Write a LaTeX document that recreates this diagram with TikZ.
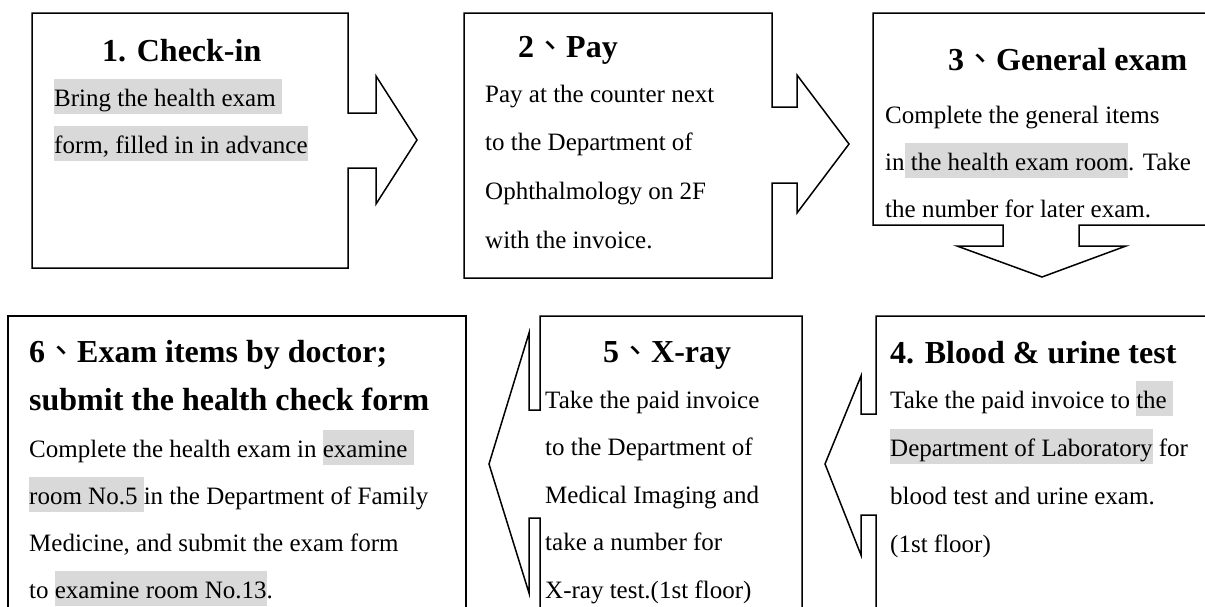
\documentclass[tikz,border=0pt]{standalone}
\usepackage{fontspec}
\setmainfont{Liberation Serif}
\newfontfamily\cjkfont{Noto Sans CJK TC}
\definecolor{hlgray}{HTML}{D9D9D9}
\newcommand\dun{{\cjkfont\mdseries 、}}
\newcommand\hlt[1]{{\setlength\fboxsep{0pt}\colorbox{hlgray}{\rule[-8pt]{0pt}{35pt}#1}}}
\newcommand\bodyfont{\fontsize{25}{47.5}\selectfont}
\newcommand\titlefont{\fontsize{32}{48}\selectfont\bfseries}
\begin{document}
\begin{tikzpicture}[x=1pt,y=-1pt,
  box/.style={draw=black,line width=1.5pt,line join=miter,fill=white},
  ttl/.style={anchor=base west,inner sep=0pt,font=\titlefont},
  body/.style={anchor=base west,inner sep=0pt,font=\bodyfont}]
\clip (0,0) rectangle (1205,606);
\fill[white] (0,0) rectangle (1205,606);
% callout shapes
\draw[box] (32,13) -- (348,13) -- (348,113) -- (376,113) -- (376,76) -- (417,140) -- (376,204) -- (376,168) -- (348,168) -- (348,268) -- (32,268) -- cycle;
\draw[box] (464,13) -- (772,13) -- (772,107) -- (797,107) -- (797,75) -- (849,144) -- (797,213) -- (797,183) -- (772,183) -- (772,278) -- (464,278) -- cycle;
\draw[box] (873,13) -- (1215,13) -- (1215,225) -- (1079,225) -- (1079,246) -- (1126,246) -- (1042,277) -- (957,246) -- (1003,246) -- (1003,225) -- (873,225) -- cycle;
\draw[box] (876,316) -- (1215,316) -- (1215,620) -- (876,620) -- (876,515) -- (861,515) -- (861,555) -- (825,464) -- (861,376) -- (861,414) -- (876,414) -- cycle;
\draw[box] (540,316) -- (802,316) -- (802,620) -- (540,620) -- (540,518) -- (529,518) -- (529,593) -- (489,464) -- (529,333) -- (529,410) -- (540,410) -- cycle;
\draw[box] (8,316) -- (466,316) -- (466,620) -- (8,620) -- cycle;
% titles
\node[ttl] (t1) at (102,61) {1. Check-in};
\node[ttl] (t2) at (518,57) {2\dun Pay};
\node[ttl] (t3) at (948,70) {3\dun General exam};
\node[ttl] (t4) at (890,363) {4. Blood \& urine test};
\node[ttl] (t5) at (603,362) {5\dun X-ray};
\node[ttl] (t6) at (29,362) {\parbox[t]{440pt}{\titlefont 6\dun Exam items by doctor;\\submit the health check form}};
% bodies
\node[body] (b1) at (54,106) {\parbox[t]{300pt}{\bodyfont\fontsize{25}{47}\selectfont
\hlt{Bring the health exam\ }\\
\hlt{form, filled in in advance}}};
\node[body] (b2) at (485,102) {\parbox[t]{300pt}{\bodyfont\fontsize{25}{48.7}\selectfont
Pay at the counter next\\
to the Department of\\
Ophthalmology on 2F\\
with the invoice.}};
\node[body] (b3) at (885,123) {\parbox[t]{330pt}{\bodyfont\fontsize{25}{47}\selectfont
Complete the general items\\
in\hlt{\ the health exam room}. Take\\
the number for later exam.}};
\node[body] (b4) at (890,408) {\parbox[t]{330pt}{\bodyfont\fontsize{25}{48}\selectfont
Take the paid invoice to \hlt{the\ }\\
\hlt{Department of Laboratory} for\\
blood test and urine exam.\\
(1st floor)}};
\node[body] (b5) at (545,408) {\parbox[t]{260pt}{\bodyfont\fontsize{25}{47.5}\selectfont
Take the paid invoice\\
to the Department of\\
Medical Imaging and\\
take a number for\\
X-ray test.(1st floor)}};
\node[body] (b6) at (29,457) {\parbox[t]{440pt}{\bodyfont\fontsize{25}{47}\selectfont
Complete the health exam in \hlt{examine\ }\\
\hlt{room No.5\ }in the Department of Family\\
Medicine, and submit the exam form\\
to \hlt{examine room No.13}.}};
\end{tikzpicture}
\end{document}
